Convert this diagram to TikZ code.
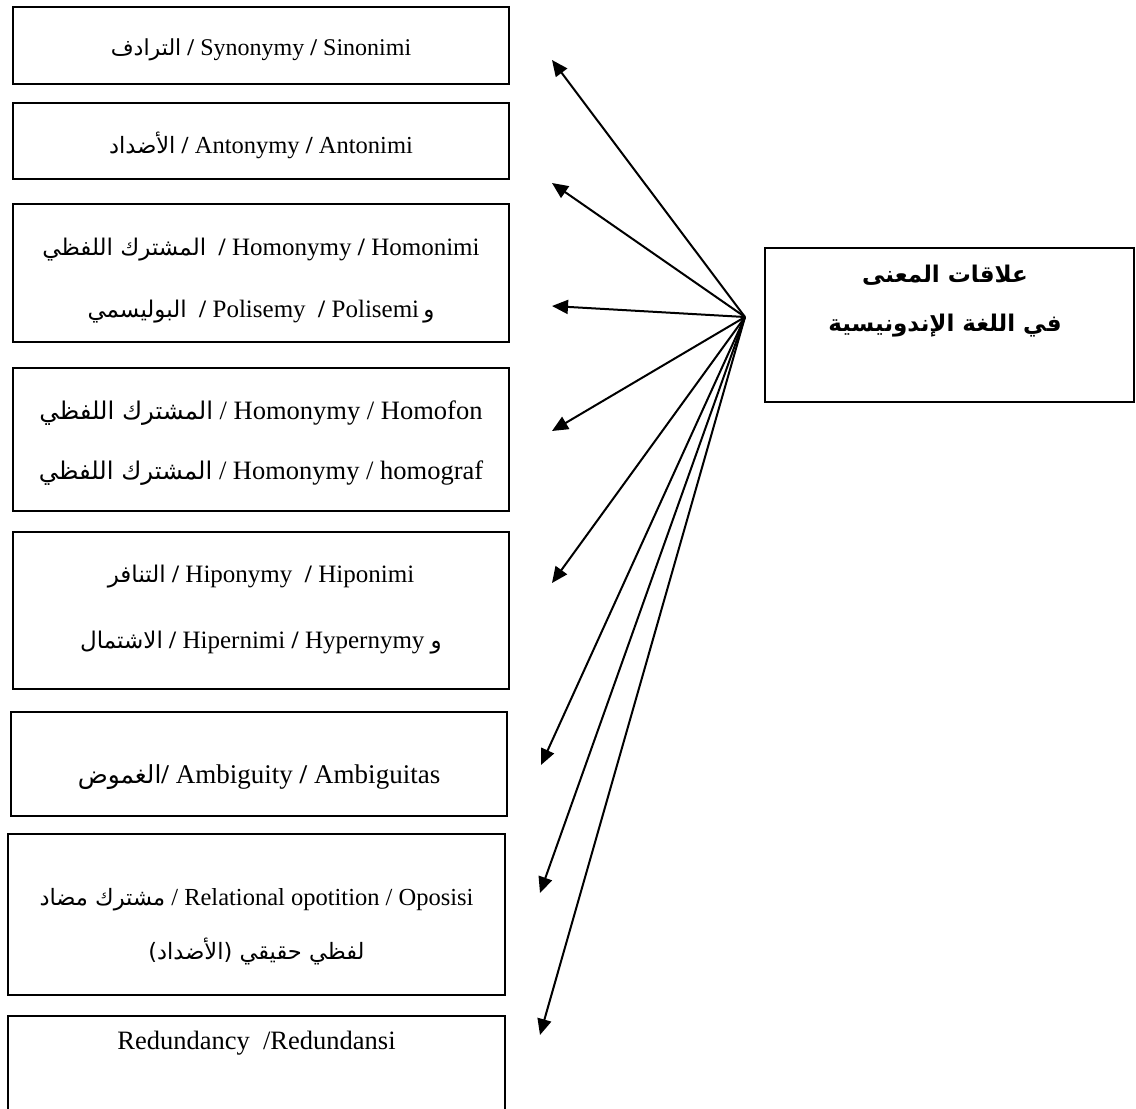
\documentclass[tikz,border=0pt]{standalone}
\usepackage{fontspec}
\setmainfont{Liberation Serif}
\newfontfamily\arabicfont[Script=Arabic,Scale=0.92]{DejaVu Sans}
\TeXXeTstate=1
\newcommand{\artext}[1]{{\arabicfont\beginR #1\endR}}
\usetikzlibrary{arrows.meta}

\tikzset{
	relbox/.style={draw, line width=1.6pt, inner sep=0pt},
	reltext/.style={align=center, inner sep=0pt},
	relarrow/.style={line width=2pt, -{Triangle[length=16pt,width=14pt]}}
}

\begin{document}
\begin{tikzpicture}[x=1pt,y=-1pt]
	
	\useasboundingbox (0,0) rectangle (1136,1109);
	
	% boxes on the left
	\node[relbox, minimum width=496pt, minimum height=77pt] (sinonimi) at (261,45.5) {};
	\node[relbox, minimum width=496pt, minimum height=76pt] (antonimi) at (261,141) {};
	\node[relbox, minimum width=496pt, minimum height=138pt] (homonimi) at (261,273) {};
	\node[relbox, minimum width=496pt, minimum height=143pt] (homofon) at (261,439.5) {};
	\node[relbox, minimum width=496pt, minimum height=157pt] (hiponimi) at (261,610.5) {};
	\node[relbox, minimum width=496pt, minimum height=104pt] (ambiguitas) at (259,764) {};
	\node[relbox, minimum width=497pt, minimum height=161pt] (oposisi) at (256.5,914.5) {};
	\node[relbox, minimum width=497pt, minimum height=140pt] (redundansi) at (256.5,1086) {};
	
	\node[reltext, font=\fontsize{24}{30}\selectfont] (sinonimi text) at (261,50) {\artext{الترادف} \textbf{/} Synonymy \textbf{/} Sinonimi};
	
	\node[reltext, font=\fontsize{24.5}{30}\selectfont] (antonimi text) at (261,145) {\artext{الأضداد} \textbf{/} Antonymy \textbf{/} Antonimi};
	
	\node[reltext, font=\fontsize{25}{62}\selectfont] (homonimi text) at (261,281) {\artext{المشترك اللفظي}~ \textbf{/} Homonymy \textbf{/} Homonimi\\ \artext{البوليسمي}~ \textbf{/} Polisemy~ \textbf{/} Polisemi\,\artext{و}};
	
	\node[reltext, font=\fontsize{26.5}{60}\selectfont] (homofon text) at (261,443) {\artext{المشترك اللفظي} / Homonymy / Homofon\\ \artext{المشترك اللفظي} / Homonymy / homograf};
	
	\node[reltext, font=\fontsize{25}{66}\selectfont] (hiponimi text) at (261,610) {\artext{التنافر} \textbf{/} Hiponymy~ \textbf{/} Hiponimi\\ \artext{الاشتمال} \textbf{/} Hipernimi \textbf{/} Hypernymy \artext{و}};
	
	\node[reltext, font=\fontsize{27}{30}\selectfont] (ambiguitas text) at (259,777) {\artext{الغموض}\textbf{/} Ambiguity \textbf{/} Ambiguitas};
	
	\node[reltext, font=\fontsize{24.5}{54}\selectfont] (oposisi text) at (256.5,927) {\artext{مشترك مضاد} / Relational opotition / Oposisi\\ \artext{لفظي حقيقي (الأضداد)}};
	
	\node[reltext, font=\fontsize{26.5}{30}\selectfont] (redundansi text) at (256.5,1043) {Redundancy~~/Redundansi};
	
	% main box
	\node[relbox, minimum width=369pt, minimum height=154pt] (makna) at (949.5,325) {};
	\node[reltext, font=\fontsize{25}{49}\selectfont\bfseries] (makna text) at (945,301) {\artext{علاقات المعنى}\\ \artext{في اللغة الإندونيسية}};
	
	\coordinate (hub) at (745,317);
	\coordinate (tip1) at (552,60);
	\coordinate (tip2) at (552,183);
	\coordinate (tip3) at (552,306);
	\coordinate (tip4) at (552,431);
	\coordinate (tip5) at (552,583);
	\coordinate (tip6) at (541,765);
	\coordinate (tip7) at (540,893);
	\coordinate (tip8) at (540,1035);
	
	\draw[relarrow] (hub) -- (tip1);
	\draw[relarrow] (hub) -- (tip2);
	\draw[relarrow] (hub) -- (tip3);
	\draw[relarrow] (hub) -- (tip4);
	\draw[relarrow] (hub) -- (tip5);
	\draw[relarrow] (hub) -- (tip6);
	\draw[relarrow] (hub) -- (tip7);
	\draw[relarrow] (hub) -- (tip8);
	
\end{tikzpicture}
\end{document}
